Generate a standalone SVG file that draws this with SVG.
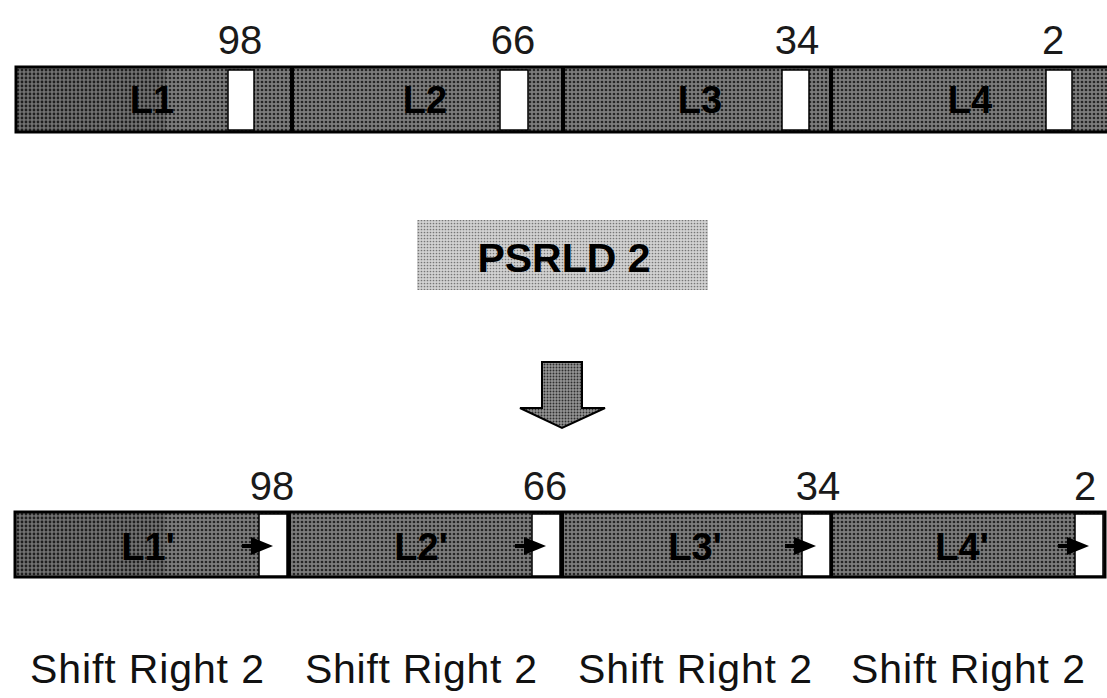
<svg xmlns="http://www.w3.org/2000/svg" width="1107" height="698" viewBox="0 0 1107 698">
  <defs>
    <pattern id="dark" patternUnits="userSpaceOnUse" width="4" height="4">
      <rect width="4" height="4" fill="#7c7c7c"/>
      <circle cx="2" cy="2" r="1.35" fill="#262626"/>
    </pattern>
    <pattern id="dark2" patternUnits="userSpaceOnUse" width="4" height="4">
      <rect width="4" height="4" fill="#727272"/>
      <circle cx="2" cy="2" r="1.4" fill="#202020"/>
    </pattern>
    <pattern id="light" patternUnits="userSpaceOnUse" width="3" height="3">
      <rect width="3" height="3" fill="#d2d2d2"/>
      <circle cx="1.5" cy="1.5" r="0.85" fill="#767676"/>
    </pattern>
    <pattern id="mid" patternUnits="userSpaceOnUse" width="3" height="3">
      <rect width="3" height="3" fill="#959595"/>
      <circle cx="1.5" cy="1.5" r="0.95" fill="#2e2e2e"/>
    </pattern>
  </defs>
  <style>
    .num { font-family: "Liberation Sans", Arial, sans-serif; font-size: 40px; fill: #1a1a1a; text-anchor: middle; }
    .lab { font-family: "Liberation Sans", Arial, sans-serif; font-size: 38px; font-weight: bold; fill: #000; text-anchor: middle; }
    .shift { font-family: "Liberation Sans", Arial, sans-serif; font-size: 41px; fill: #111; }
    .bar { fill: url(#dark); stroke: #000; stroke-width: 3; }
    .bar2 { fill: url(#dark2); }
    .slot { fill: #fff; stroke: #000; stroke-width: 1.5; }
    .div { stroke: #000; stroke-width: 4; }
    .tri { fill: #000; }
  </style>

  <!-- Top register -->
  <g id="top-register">
    <rect class="bar" x="16" y="67" width="1094" height="65"/>
    <rect class="bar2" x="18" y="69" width="148" height="61"/>
    <line class="div" x1="292" y1="67" x2="292" y2="132"/>
    <line class="div" x1="563" y1="67" x2="563" y2="132"/>
    <line class="div" x1="831" y1="67" x2="831" y2="132"/>
    <rect class="slot" x="228" y="70" width="26" height="60"/>
    <rect class="slot" x="500" y="70" width="28" height="60"/>
    <rect class="slot" x="782" y="70" width="27" height="60"/>
    <rect class="slot" x="1046" y="70" width="26" height="60"/>
    <text class="lab" x="152" y="113">L1</text>
    <text class="lab" x="425" y="113">L2</text>
    <text class="lab" x="700" y="113">L3</text>
    <text class="lab" x="970" y="113">L4</text>
    <text class="num" x="240" y="54">98</text>
    <text class="num" x="513" y="54">66</text>
    <text class="num" x="797" y="54">34</text>
    <text class="num" x="1053" y="54">2</text>
  </g>

  <!-- Instruction -->
  <g id="instruction">
    <rect x="417" y="220" width="291" height="70" fill="url(#light)"/>
    <text x="564" y="272" font-family="'Liberation Sans', Arial, sans-serif" font-size="41" font-weight="bold" fill="#000" text-anchor="middle">PSRLD 2</text>
  </g>

  <!-- Connectors -->
  <g id="connectors">
    <path d="M542,362 L582,362 L582,408 L605,408 L562,428 L520,408 L542,408 Z" fill="url(#mid)" stroke="#000" stroke-width="2" stroke-linejoin="miter"/>
  </g>

  <!-- Bottom register -->
  <g id="bottom-register">
    <rect class="bar" x="15" y="512" width="1090" height="65"/>
    <rect class="bar2" x="17" y="514" width="148" height="61"/>
    <line class="div" x1="289" y1="512" x2="289" y2="577"/>
    <line class="div" x1="562" y1="512" x2="562" y2="577"/>
    <line class="div" x1="831" y1="512" x2="831" y2="577"/>
    <text class="lab" x="148" y="560">L1'</text>
    <text class="lab" x="421" y="560">L2'</text>
    <text class="lab" x="695" y="560">L3'</text>
    <text class="lab" x="962" y="560">L4'</text>
    <rect class="slot" x="259" y="514" width="28" height="62"/>
    <rect class="slot" x="532" y="514" width="28" height="62"/>
    <rect class="slot" x="802" y="514" width="28" height="62"/>
    <rect class="slot" x="1075" y="514" width="28" height="62"/>
    <g class="tri">
      <rect x="242" y="544" width="12" height="4"/>
      <polygon points="251,537 273,546 251,555"/>
      <rect x="515" y="544" width="12" height="4"/>
      <polygon points="524,537 546,546 524,555"/>
      <rect x="785" y="544" width="12" height="4"/>
      <polygon points="794,537 816,546 794,555"/>
      <rect x="1058" y="544" width="12" height="4"/>
      <polygon points="1067,537 1089,546 1067,555"/>
    </g>
    <text class="num" x="272" y="500">98</text>
    <text class="num" x="545" y="500">66</text>
    <text class="num" x="818" y="500">34</text>
    <text class="num" x="1085" y="500">2</text>
  </g>

  <!-- Captions -->
  <g id="captions">
    <text class="shift" x="30" y="683" textLength="234" lengthAdjust="spacing">Shift Right 2</text>
    <text class="shift" x="305" y="683" textLength="232" lengthAdjust="spacing">Shift Right 2</text>
    <text class="shift" x="578" y="683" textLength="234" lengthAdjust="spacing">Shift Right 2</text>
    <text class="shift" x="851" y="683" textLength="234" lengthAdjust="spacing">Shift Right 2</text>
  </g>
</svg>
